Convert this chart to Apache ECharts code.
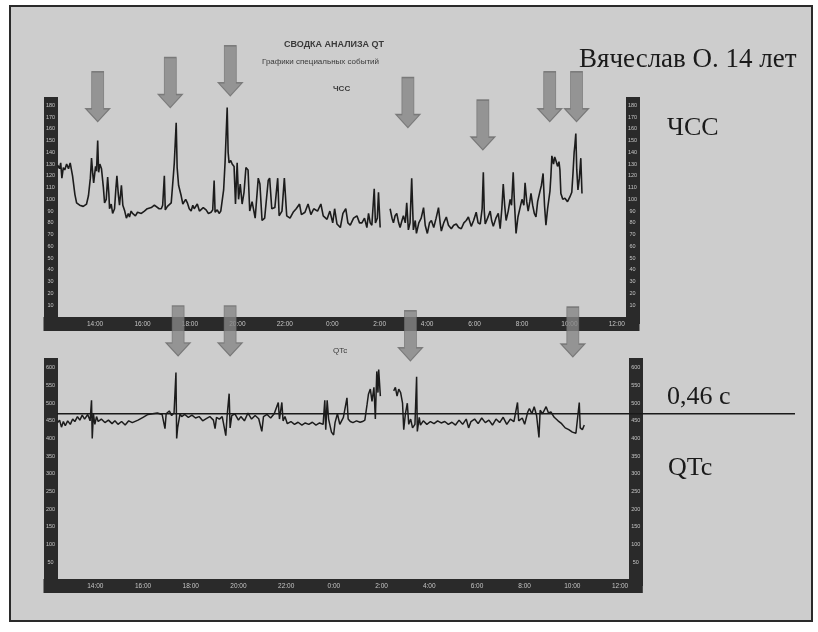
<!DOCTYPE html>
<html><head><meta charset="utf-8">
<script src="https://cdn.jsdelivr.net/npm/echarts@6/dist/echarts.min.js"></script>
<style>html,body{margin:0;padding:0;background:#fff}#c{width:818px;height:632px}</style>
</head><body><div id="c"></div>
<script>
// ---- data (time in hours from midnight of day 1; >24 = next day) ----
const hrTime = [12.42,12.50,12.55,12.60,12.66,12.72,12.80,12.88,12.95,13.05,13.15,13.22,13.35,13.50,13.64,13.72,13.80,13.85,13.90,13.94,14.02,14.06,14.11,14.15,14.20,14.27,14.35,14.40,14.47,14.53,14.58,14.61,14.68,14.74,14.82,14.88,14.92,14.98,15.03,15.11,15.17,15.25,15.32,15.40,15.45,15.52,15.58,15.70,15.79,15.95,16.08,16.20,16.37,16.50,16.58,16.70,16.79,16.85,16.92,16.96,17.05,17.21,17.30,17.34,17.42,17.46,17.52,17.63,17.70,17.76,17.82,17.89,17.97,18.05,18.12,18.18,18.25,18.31,18.40,18.47,18.56,18.68,18.78,18.89,18.96,19.02,19.06,19.15,19.23,19.30,19.36,19.42,19.48,19.57,19.61,19.65,19.72,19.78,19.86,19.92,19.99,20.05,20.12,20.20,20.28,20.36,20.45,20.52,20.62,20.75,20.88,20.95,21.04,21.15,21.30,21.36,21.45,21.58,21.70,21.76,21.88,21.98,22.08,22.22,22.35,22.48,22.62,22.70,22.85,22.98,23.10,23.22,23.38,23.52,23.62,23.78,23.90,24.02,24.10,24.20,24.34,24.45,24.57,24.66,24.76,24.90,25.04,25.15,25.25,25.36,25.46,25.53,25.60,25.67,25.77,25.82,25.90,25.95,26.02,26.20,26.44,26.52,26.58,26.65,26.72,26.80,26.86,26.94,27.00,27.08,27.14,27.21,27.28,27.35,27.42,27.50,27.55,27.65,27.75,27.85,27.92,28.01,28.10,28.18,28.28,28.38,28.48,28.55,28.60,28.70,28.81,28.90,29.02,29.12,29.23,29.33,29.44,29.55,29.65,29.74,29.86,29.96,30.07,30.15,30.24,30.32,30.37,30.41,30.45,30.55,30.66,30.72,30.79,30.90,31.00,31.08,31.15,31.21,31.27,31.33,31.42,31.50,31.56,31.63,31.68,31.75,31.83,31.92,32.00,32.08,32.13,32.20,32.26,32.33,32.38,32.45,32.52,32.59,32.66,32.76,32.82,32.89,32.95,33.01,33.08,33.18,33.22,33.26,33.33,33.38,33.43,33.50,33.56,33.60,33.64,33.72,33.81,33.92,34.02,34.10,34.15,34.20,34.23,34.27,34.31,34.36,34.42,34.48,34.53];
const hrBpm = [129,126,131,118,127,125,130,126,131,120,104,97,95,94,96,103,118,135,122,114,128,124,150,123,130,126,110,97,100,119,105,92,96,88,92,110,120,104,95,112,95,90,84,88,85,90,88,86,89,88,90,92,93,95,96,92,92,95,120,91,94,97,120,131,165,127,112,103,96,95,100,97,92,90,95,92,91,96,90,89,93,91,88,89,91,116,89,91,88,90,91,108,131,178,140,131,133,130,128,96,131,100,113,96,106,127,125,90,98,84,118,113,82,84,116,118,92,93,118,86,90,118,86,84,89,92,96,87,89,96,87,92,90,96,86,83,90,80,92,79,76,88,92,80,78,84,86,80,80,84,76,88,80,78,109,80,84,106,76,null,92,84,80,86,88,80,76,82,86,80,97,74,80,118,74,82,71,80,84,93,78,71,80,82,76,84,93,80,73,80,85,78,75,78,79,76,75,80,82,85,77,82,89,80,79,92,123,90,79,84,90,82,77,84,88,75,92,113,95,82,90,100,95,123,98,71,85,93,100,95,114,98,90,98,105,95,88,85,98,107,112,122,95,78,92,107,120,137,130,136,133,128,132,125,105,100,101,98,102,106,122,140,146,156,125,108,118,135,105];

const qtTime = [12.42,12.50,12.58,12.66,12.74,12.84,12.95,13.05,13.14,13.25,13.35,13.45,13.55,13.68,13.78,13.84,13.87,13.92,13.98,14.05,14.12,14.25,14.40,14.55,14.70,14.82,14.95,15.10,15.25,15.40,15.55,15.79,16.00,16.21,16.40,16.60,16.80,16.92,16.97,17.10,17.20,17.30,17.38,17.41,17.45,17.55,17.62,17.75,17.90,18.05,18.20,18.35,18.50,18.65,18.80,18.95,19.02,19.08,19.20,19.32,19.47,19.52,19.61,19.65,19.72,19.85,20.00,20.10,20.25,20.40,20.55,20.70,20.85,20.98,21.05,21.20,21.35,21.50,21.67,21.72,21.82,21.87,21.95,22.05,22.20,22.35,22.50,22.66,22.80,22.95,23.10,23.25,23.40,23.55,23.62,23.66,23.72,23.78,23.90,23.99,24.05,24.15,24.25,24.40,24.55,24.60,24.69,24.80,24.95,25.10,25.20,25.30,25.39,25.45,25.53,25.60,25.68,25.74,25.80,25.85,25.88,25.95,26.20,26.51,26.58,26.65,26.72,26.80,26.88,26.93,27.00,27.08,27.14,27.22,27.30,27.40,27.47,27.50,27.58,27.63,27.75,27.90,28.05,28.20,28.35,28.50,28.65,28.80,28.95,29.10,29.25,29.40,29.55,29.65,29.75,29.90,30.05,30.20,30.35,30.50,30.65,30.80,30.95,31.10,31.25,31.40,31.55,31.70,31.75,31.90,32.00,32.13,32.20,32.30,32.40,32.50,32.60,32.65,32.75,32.90,33.00,33.10,33.24,33.40,33.55,33.70,33.85,34.00,34.15,34.22,34.29,34.33,34.42,34.50];
const qtMs = [445,452,432,448,436,450,440,455,448,462,452,466,455,468,450,508,400,470,440,462,448,455,445,452,442,450,440,448,438,450,445,452,460,468,470,472,468,428,470,478,465,472,587,400,430,470,462,468,460,466,458,462,450,456,462,452,428,460,455,462,408,460,527,430,465,470,452,462,450,472,455,465,456,420,462,468,458,470,502,455,502,450,462,442,448,440,446,438,444,440,446,438,444,440,508,425,508,455,418,410,445,470,440,460,515,455,448,445,450,446,448,452,495,525,540,505,545,455,590,530,595,520,null,535,545,520,540,530,500,425,470,500,440,455,430,440,575,420,460,438,450,440,448,442,450,444,448,440,446,438,452,440,455,430,448,455,442,458,445,452,438,455,445,460,440,455,448,502,450,458,440,475,485,470,490,465,403,480,470,490,472,475,460,450,442,430,425,418,415,420,502,430,425,438];

const qtLimit = 470;                 // 0,46 с reference line (as drawn)
const timeTicks = [14,16,18,20,22,24,26,28,30,32,34,36];
const hrTicks = [10,20,30,40,50,60,70,80,90,100,110,120,130,140,150,160,170,180];
const qtTicks = [50,100,150,200,250,300,350,400,450,500,550,600];
const hrArrowTime = [14.11,17.17,19.70,27.19,30.35,33.17,34.30];
const hrArrowTip  = [166,178,188,161,142,166,166];
const qtArrowTime = [17.47,19.65,27.21,34.02];
const qtArrowTip  = [634,634,620,631];

// ---- build ----
const zip = (a,b) => a.map((t,i) => [t, b[i] == null ? '-' : b[i]]);
const BAR = '#2a2a2a', LBL = '#c4c4c4';
const ARROW = 'path://M6,0 L18,0 L18,37 L24,37 L12,50 L0,37 L6,37 Z';
const fmtTime = v => (Math.round(v) % 24) + ':00';

function yAx(grid, pos, min, max, ticks) {
  return {
    type: 'value', gridIndex: grid, position: pos, min: min, max: max,
    axisLine: { show: true, onZero: false, lineStyle: { color: BAR, width: 14, cap: 'butt' } },
    axisTick: { show: false }, splitLine: { show: false },
    axisLabel: { customValues: ticks, align: 'center', margin: 0, fontSize: 5.5, color: LBL, fontFamily: 'Liberation Sans' }
  };
}
function xAx(grid) {
  return {
    type: 'value', gridIndex: grid, min: 12.12, max: 36.66,
    axisLine: { show: true, onZero: false, lineStyle: { color: BAR, width: 14, cap: 'square' } },
    axisTick: { show: false }, splitLine: { show: false },
    axisLabel: { customValues: timeTicks, formatter: fmtTime, margin: 0, verticalAlign: 'middle',
                 fontSize: 6.5, color: LBL, fontFamily: 'Liberation Sans' }
  };
}

const chart = echarts.init(document.getElementById('c'), null, { renderer: 'canvas' });
chart.setOption({
  animation: false,
  backgroundColor: '#ffffff',
  graphic: [
    { type: 'rect', z: -10, shape: { x: 10, y: 6, width: 802, height: 615 },
      style: { fill: '#cdcdcd', stroke: '#2a2a2a', lineWidth: 2 } },
    { type: 'text', left: 284, top: 40, style: { text: 'СВОДКА АНАЛИЗА QT', font: 'bold 9px "Liberation Sans"', fill: '#3a3a3a' } },
    { type: 'text', left: 262, top: 58, style: { text: 'Графики специальных событий', font: '8px "Liberation Sans"', fill: '#3a3a3a' } },
    { type: 'text', left: 333, top: 85, style: { text: 'ЧСС', font: 'bold 8px "Liberation Sans"', fill: '#3a3a3a' } },
    { type: 'text', left: 333, top: 347, style: { text: 'QTc', font: '8px "Liberation Sans"', fill: '#3a3a3a' } },
    { type: 'text', left: 579, top: 46, style: { text: 'Вячеслав О. 14 лет', font: '27px "Liberation Serif"', fill: '#1a1a1a' } },
    { type: 'text', left: 667, top: 115, style: { text: 'ЧСС', font: '26px "Liberation Serif"', fill: '#1a1a1a' } },
    { type: 'text', left: 667, top: 384, style: { text: '0,46 с', font: '26px "Liberation Serif"', fill: '#1a1a1a' } },
    { type: 'text', left: 668, top: 455, style: { text: 'QTc', font: '26px "Liberation Serif"', fill: '#1a1a1a' } }
  ],
  grid: [
    { left: 50.5, right: 185.5, top: 97, bottom: 308 },
    { left: 50.5, right: 182.2, top: 358, bottom: 46 },
    { left: 57, right: 23, top: 358, bottom: 46 }
  ],
  xAxis: [
    xAx(0), xAx(1),
    { type: 'value', gridIndex: 2, min: 0, max: 1, show: false }
  ],
  yAxis: [
    yAx(0, 'left', -6, 187, hrTicks), yAx(0, 'right', -6, 187, hrTicks),
    yAx(1, 'left', -18, 628, qtTicks), yAx(1, 'right', -18, 628, qtTicks),
    { type: 'value', gridIndex: 2, min: -18, max: 628, show: false }
  ],
  series: [
    { type: 'line', xAxisIndex: 0, yAxisIndex: 0, data: zip(hrTime, hrBpm), showSymbol: false,
      connectNulls: false, lineStyle: { color: '#1c1c1c', width: 1.6 }, z: 3, silent: true },
    { type: 'line', xAxisIndex: 1, yAxisIndex: 2, data: zip(qtTime, qtMs), showSymbol: false,
      connectNulls: false, lineStyle: { color: '#1c1c1c', width: 1.5 }, z: 3, silent: true },
    { type: 'line', xAxisIndex: 2, yAxisIndex: 4, data: [[0, qtLimit], [1, qtLimit]], showSymbol: false,
      lineStyle: { color: '#1a1a1a', width: 1.6 }, z: 4, silent: true },
    { type: 'scatter', xAxisIndex: 0, yAxisIndex: 0, data: zip(hrArrowTime, hrArrowTip), clip: false,
      symbol: ARROW, symbolSize: [24, 50], symbolOffset: [0, '-50%'],
      itemStyle: { color: '#868686', borderColor: '#6c6c6c', borderWidth: 1 }, z: 6, silent: true },
    { type: 'scatter', xAxisIndex: 1, yAxisIndex: 2, data: zip(qtArrowTime, qtArrowTip), clip: false,
      symbol: ARROW, symbolSize: [24, 50], symbolOffset: [0, '-50%'],
      itemStyle: { color: '#868686', borderColor: '#6c6c6c', borderWidth: 1 }, z: 6, silent: true }
  ]
});
</script></body></html>
